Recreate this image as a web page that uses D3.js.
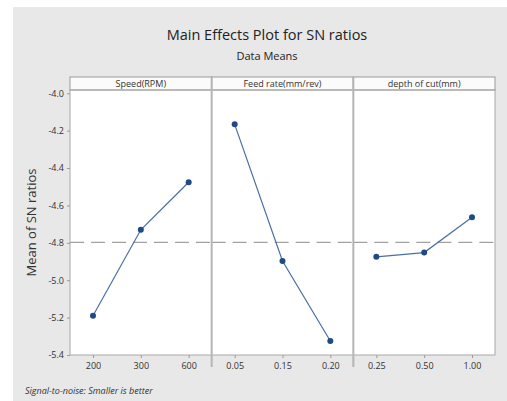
<!DOCTYPE html>
<html>
<head>
<meta charset="utf-8">
<script src="https://cdn.jsdelivr.net/npm/d3@7"></script>
<style>
body { margin: 0; background: #fff; }
svg { display: block; font-family: "Open Sans", sans-serif; }
</style>
</head>
<body>
<svg width="507" height="401"></svg>
<script>
var factors = ["Speed(RPM)", "Feed rate(mm/rev)", "depth of cut(mm)"];
var levels = [["200", "300", "600"], ["0.05", "0.15", "0.20"], ["0.25", "0.50", "1.00"]];
var means = [[-5.19, -4.73, -4.476], [-4.166, -4.897, -5.325], [-4.875, -4.852, -4.663]];
var yTicks = [-4.0, -4.2, -4.4, -4.6, -4.8, -5.0, -5.2, -5.4];

var svg = d3.select("svg");
var plotLeft = 70, plotRight = 495, stripTop = 77, plotTop = 90, plotBottom = 355;
var fmt = function(v) { return d3.format(".1f")(v).replace("\u2212", "-"); };

// grey backdrop
svg.append("rect").attr("x", 13).attr("y", 7).attr("width", 494).attr("height", 394).attr("fill", "#e8e8e8");

svg.append("text").attr("x", 267).attr("y", 40).attr("text-anchor", "middle")
    .attr("font-size", 14.5).attr("fill", "#222").text("Main Effects Plot for SN ratios");
svg.append("text").attr("x", 267).attr("y", 60).attr("text-anchor", "middle")
    .attr("font-size", 11).attr("fill", "#222").text("Data Means");

var y = d3.scaleLinear().domain([-4.0, -5.4]).range([93.3, 355]);
var panel = d3.scaleBand().domain(d3.range(factors.length)).range([plotLeft, plotRight]);

var grand = d3.mean(means.map(function(m) { return d3.mean(m); }));

svg.append("rect").attr("x", plotLeft).attr("y", plotTop).attr("width", plotRight - plotLeft)
    .attr("height", plotBottom - plotTop).attr("fill", "#fff");

factors.forEach(function(f, i) {
    var x0 = panel(i), w = panel.bandwidth();
    var g = svg.append("g");
    g.append("rect").attr("x", x0).attr("y", stripTop).attr("width", w).attr("height", plotTop - stripTop)
        .attr("fill", "#fbfbfb").attr("stroke", "#9a9a9a");
    g.append("text").attr("x", x0 + w / 2).attr("y", plotTop - 3).attr("text-anchor", "middle")
        .attr("font-size", 9).attr("fill", "#333").text(f);

    var x = d3.scalePoint().domain(levels[i]).range([x0 + 23, x0 + w - 23]);
    var ax = g.append("g").attr("transform", "translate(0," + plotBottom + ")")
        .call(d3.axisBottom(x).tickSize(3).tickPadding(5));
    ax.select(".domain").remove();
    ax.selectAll("line").attr("stroke", "#999");
    ax.selectAll("text").attr("font-size", 9).attr("fill", "#333").attr("font-family", "Open Sans, sans-serif");

    var pts = levels[i].map(function(l, j) { return [x(l), y(means[i][j])]; });
    g.append("line").attr("x1", x0).attr("x2", x0 + w).attr("y1", y(grand)).attr("y2", y(grand))
        .attr("stroke", "#8a8a8a").attr("stroke-dasharray", "14,7").attr("stroke-width", 1);
    g.append("path").attr("d", d3.line()(pts)).attr("fill", "none").attr("stroke", "#4a6fa5").attr("stroke-width", 1.2);
    g.selectAll("circle").data(pts).enter().append("circle")
        .attr("cx", function(d) { return d[0]; }).attr("cy", function(d) { return d[1]; })
        .attr("r", 3).attr("fill", "#1f4a85");
});

// panel borders and dividers
svg.append("rect").attr("x", plotLeft).attr("y", plotTop).attr("width", plotRight - plotLeft)
    .attr("height", plotBottom - plotTop).attr("fill", "none").attr("stroke", "#a8a8a8");
for (var i = 1; i < factors.length; i++) {
    svg.append("line").attr("x1", panel(i)).attr("x2", panel(i)).attr("y1", stripTop).attr("y2", plotBottom + 12)
        .attr("stroke", "#b5b5b5").attr("stroke-width", 2);
}

var ay = svg.append("g").attr("transform", "translate(" + plotLeft + ",0)")
    .call(d3.axisLeft(y).tickValues(yTicks).tickFormat(fmt).tickSize(3).tickPadding(3));
ay.select(".domain").remove();
ay.selectAll("line").attr("stroke", "#999");
ay.selectAll("text").attr("font-size", 9).attr("fill", "#333").attr("font-family", "Open Sans, sans-serif");

svg.append("text").attr("transform", "translate(36," + ((plotTop + plotBottom) / 2) + ") rotate(-90)")
    .attr("text-anchor", "middle").attr("font-size", 13).attr("fill", "#333").text("Mean of SN ratios");

svg.append("text").attr("x", 25).attr("y", 394).attr("font-size", 9).attr("font-style", "italic")
    .attr("fill", "#333").text("Signal-to-noise: Smaller is better");
</script>
</body>
</html>
